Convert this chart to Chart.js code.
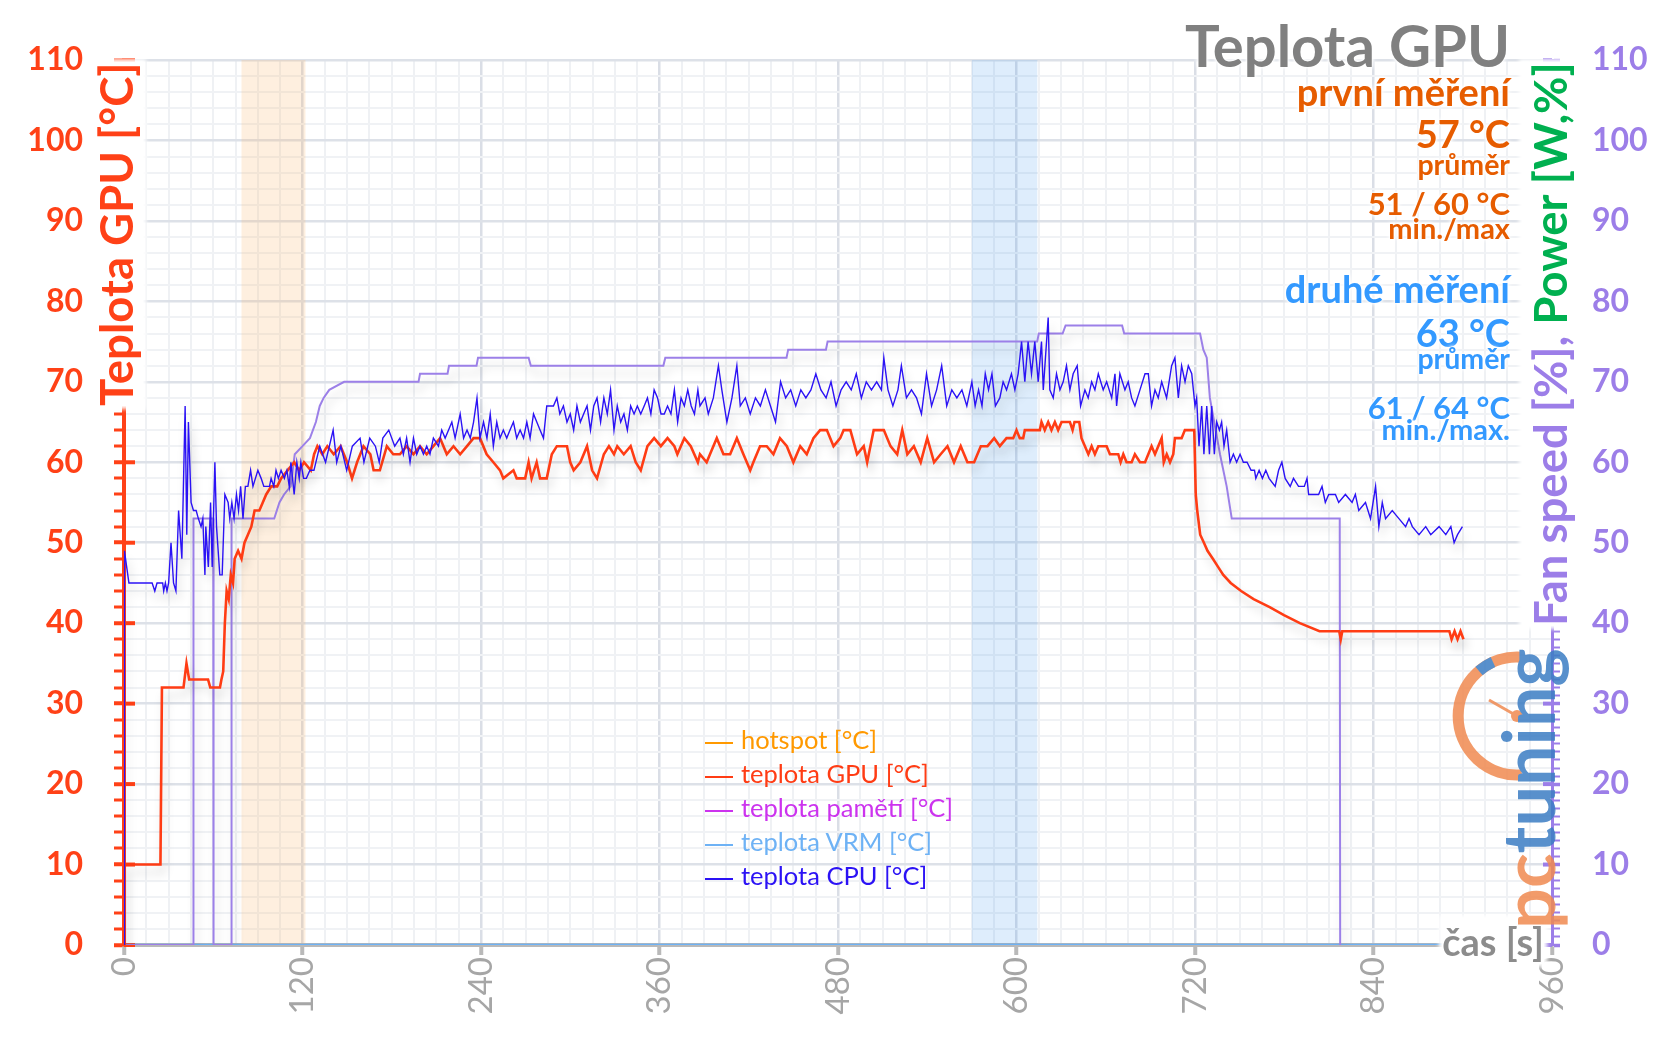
<!DOCTYPE html>
<html lang="cs">
<head>
<meta charset="utf-8">
<title>Teplota GPU</title>
<script src="https://cdn.jsdelivr.net/npm/chart.js@4.4.1/dist/chart.umd.min.js"></script>
<style>
  html, body { margin: 0; padding: 0; background: #fff; }
  #wrap { position: relative; width: 1656px; height: 1043px; overflow: hidden; font-family: Lato, 'Open Sans', sans-serif; }
  #cbox { position: absolute; left: 0; top: 0; width: 1656px; height: 1043px; }
  .halo { text-shadow: 0 0 2px #fff, 0 0 3px #fff, 0 0 4px #fff, 0 0 6px #fff; }
  .bg { background: #fff; box-shadow: 0 0 4px 3px #fff; }
  .note { position: absolute; right: 146px; text-align: right; font-weight: 700; line-height: 1; white-space: nowrap; }
  .vt { position: absolute; top: 62px; width: 46px; height: 700px; writing-mode: vertical-rl; transform: rotate(180deg);
        text-align: end; font-weight: 700; font-size: 45.5px; line-height: 46px; white-space: nowrap; }
  #legend { position: absolute; left: 705px; top: 722px; font-size: 25.5px; line-height: 34px; }
  #legend div { white-space: nowrap; }
  #legend .ln { display: inline-block; width: 28px; height: 2px; vertical-align: middle; margin-right: 8px; }
  #logo { position: absolute; left: 0; top: 0; pointer-events: none; }
</style>
</head>
<body>
<div id="wrap">
  <div id="cbox"><canvas id="chart"></canvas></div>
  <div id="notes"></div>
  <div class="vt" style="left:93px"><span class="bg" style="color:#ff4117">Teplota GPU [°C]</span></div>
  <div class="vt" style="left:1527px"><span class="bg"><span style="color:#9c7ee8">Fan speed [%],</span><span style="color:#00b050"> Power [W,%]</span></span></div>
  <div id="legend"></div>
  <div class="note" style="right:112px;top:922px;font-size:38px;color:#8c8c8c"><span class="bg">čas [s]</span></div>
  <svg id="logo" width="1656" height="1043" viewBox="0 0 1656 1043">
    <g opacity="0.85">
      <path d="M 1522 657.2 A 59 59 0 1 0 1522 774.8" fill="none" stroke="#f08a50" stroke-width="11"/>
      <path d="M 1479 671 A 59 59 0 0 1 1493 662" fill="none" stroke="#3b7dc4" stroke-width="11"/>
      <line x1="1517" y1="716" x2="1489" y2="700" stroke="#f08a50" stroke-width="3"/>
      <circle cx="1517" cy="716" r="6" fill="#f08a50"/>
      <text transform="translate(1555 929) rotate(-90)" font-family="Lato" font-weight="700" font-size="72"><tspan fill="#f08a50">pc</tspan><tspan fill="#3b7dc4">tuning</tspan></text>
    </g>
  </svg>
</div>
<script>
// časová osa a popisky
const xTickLabels = [0, 120, 240, 360, 480, 600, 720, 840, 960];
const yTickLabels = [0, 10, 20, 30, 40, 50, 60, 70, 80, 90, 100, 110];
const seriesLabels = ['hotspot [°C]', 'teplota GPU [°C]', 'teplota pamětí [°C]', 'teplota VRM [°C]', 'teplota CPU [°C]'];

// zvýrazněné úseky měření [od, do] v sekundách
const loadBand = [79, 122];
const idleBand = [570, 614];

// souhrn
const firstRun = ['první měření', '57 °C', 'průměr', '51 / 60 °C', 'min./max'];
const secondRun = ['druhé měření', '63 °C', 'průměr', '61 / 64 °C', 'min./max.'];

// [čas s, hodnota]
const hotspotTemp = [[0, 0], [901, 0]];
const memTemp = [[0, 0], [901, 0]];
const vrmTemp = [[0, 0], [901, 0]];

const gpuTemp = [[0,0],[0.5,10],[24.5,10],[25.5,32],[40,32],[42,35],[43.8,33],[56.5,33],[58,32],[64.5,32],[65.5,33],[66.7,34],[67.8,40],[69,44],[70.4,43],[71.8,46],[73.3,45],[74.4,48],[76.7,49],[79,48],[81,50],[83.3,51],[85.6,52],[87.8,54],[91,54],[93.3,55],[95.6,56],[99,57],[103,57],[105.6,58],[110,59],[114.4,60],[117.8,59],[121,60],[125.6,59],[127.8,61],[130,62],[133.3,61],[136.7,62],[141,61],[145.6,62],[150,60],[153.3,58],[156.7,60],[161,62],[165.6,61],[167.8,59],[172,59],[176.7,62],[181,61],[185.5,61],[190,62],[194.6,61],[199,62],[203.5,61],[208,62],[212.5,63],[217,61],[221.5,62],[226,61],[230.6,62],[235,63],[239.3,63],[243.8,61],[248.3,60],[252.8,59],[255,58],[261.8,59],[264,58],[269.7,58],[272,60],[274,58],[277.4,60],[279.7,58],[284.2,58],[287.6,61],[291,62],[297.8,62],[300,60],[302.3,59],[306.8,60],[311.3,62],[314.7,59],[318,58],[322.6,61],[326,62],[329.4,61],[331.6,62],[336,61],[340.6,62],[344,60],[347.4,59],[351.9,62],[356.4,63],[360.9,62],[365.4,63],[370,62],[372,61],[376.7,63],[381,62],[385.8,60],[387.2,61],[391.7,60],[396.2,62],[398.5,63],[403,61],[407.5,61],[412,63],[416.4,61],[421,59],[423.1,60],[427.6,62],[432.1,62],[436.6,61],[441,63],[445.6,62],[450,60],[454.6,62],[459,61],[463.5,63],[468,64],[472.5,64],[477,62],[481.5,63],[483.8,64],[488.3,64],[492.8,61],[497.3,62],[499.6,60],[504,64],[510.8,64],[515.3,62],[519.8,61],[523.2,64],[526.6,61],[531,62],[535.6,60],[540,63],[544.6,60],[549,61],[553.6,62],[558,60],[562.5,62],[567,60],[571.5,60],[576,62],[580.5,62],[585,63],[588.8,62],[593.3,63],[597.8,63],[600,64],[602.2,63],[604.5,63],[605.6,64],[615.7,64],[616.8,65],[619,64],[621.3,65],[623.5,64],[625.8,65],[628,64],[630.3,65],[635.9,65],[637.7,64],[639,65],[642.2,65],[643.7,63],[646,62],[648.3,61],[650.5,62],[652.7,61],[655,62],[660.6,62],[662.8,61],[668.4,61],[670,60],[671.8,61],[674,60],[677.4,60],[679.6,61],[683,60],[686.4,60],[688.6,61],[690.8,62],[693.1,61],[695.3,62],[697.6,63],[699,60],[701,61],[703.2,60],[705.4,61],[706.5,63],[711,63],[713.2,64],[717,64],[719.5,64],[720.5,56],[721.5,54],[723.5,51],[726,50],[728.4,49],[732,48],[735.5,47],[739,46],[744,45],[751,44],[759.4,43],[770.2,42],[779.8,41],[790.5,40],[803.7,39],[817,39],[818,38],[819,39],[891,39],[892.5,38],[894.5,39],[896.5,38],[898.5,39],[900.5,38]];

const cpuTemp = [[0,0],[0.3,49],[3.3,45],[18.9,45],[20.7,44],[22.2,45],[26,45],[26.7,44],[27.8,45],[28.9,44],[30,45],[31.6,50],[33.3,45],[34.9,44],[36.7,54],[38.9,48],[41.1,67],[42.2,51],[43.3,65],[45.1,55],[46.7,54],[48.5,54],[50,53],[51.8,52],[53,53],[54.4,46],[55,52],[56.7,47],[58.2,55],[59.3,47],[61.1,60],[62.2,52],[64.4,46],[66,46],[67.8,56],[70,55],[71.1,53],[72.5,55],[74,53],[75.6,56],[77,54],[78.4,57],[80,53],[81.6,57],[83.3,57],[85.1,59],[86.7,57],[90,59],[92.2,58],[94,57],[97.8,57],[98.9,58],[100.7,57],[102.2,59],[103.8,58],[105.6,59],[107.8,58],[109.5,59],[111.1,57],[112.2,60],[114.4,56],[116.2,60],[117.8,58],[118.9,60],[120.7,58],[122.6,58],[125,59],[127.7,59],[131.6,62],[135.5,60],[140.6,64],[143,60],[145.8,62],[149.7,59],[153.5,62],[158.7,63],[161.3,60],[165.2,63],[169,62],[171.6,60],[174,63],[178,64],[182,62],[185.5,63],[187.8,61],[190,63],[192.3,60],[194.6,63],[196.8,61],[199,62],[201.3,61],[203.5,62],[205.7,61],[208,63],[211.4,62],[213.6,64],[215.9,63],[218.2,64],[220.4,65],[222.6,63],[226,66],[228.3,63],[230.6,64],[232.8,63],[235,65],[237.3,68],[239.3,63],[241.7,65],[244,63],[246.2,66],[248.3,62],[250.6,65],[252.8,63],[255,64],[257.3,63],[259.5,64],[261.8,65],[264,63],[266.3,64],[268.6,63],[270.8,65],[273,63],[275.3,66],[277.5,65],[279.7,64],[282,63],[284.2,67],[286.5,67],[288.7,67],[291,68],[293,66],[295.4,67],[297.8,65],[300,66],[302.3,64],[304.5,67],[306.8,65],[309,66],[311.3,67],[313.6,64],[315.8,67],[318,68],[320.4,65],[322.6,68],[324.9,66],[327.1,69],[329.4,64],[331.6,67],[333.9,65],[336.1,66],[338.4,64],[340.6,67],[342.9,66],[345.1,67],[347.4,66],[349.7,67],[351.9,68],[354.2,66],[356.4,69],[358.7,68],[361,66],[363.2,66],[365.4,67],[367.7,66],[370,69],[372.2,65],[374.5,68],[376.7,67],[379,69],[381.3,67],[383.5,66],[385.8,69],[387.2,67],[390.6,68],[392.8,66],[396.2,68],[399.6,72],[401.9,69],[405.3,65],[408.7,68],[412,72],[414.3,67],[417.7,68],[421,66],[424.5,68],[427.8,67],[431.2,69],[434.6,67],[438,65],[441.4,70],[444.8,68],[448.2,69],[451.6,67],[455,69],[458.4,68],[461.8,69],[465.1,71],[468.5,69],[472,68],[475.3,70],[478.7,67],[482.1,69],[485.5,70],[488.9,69],[492.3,71],[495.7,68],[499,70],[502.5,69],[506,70],[509.2,69],[510.8,73],[513.6,69],[516.9,67],[520.3,69],[522.6,72],[526,68],[529.4,69],[532.8,68],[536.1,66],[539.5,71],[542.9,67],[546.3,69],[549.7,72],[553.1,67],[556.5,69],[559.9,68],[563.3,69],[566.6,67],[570,70],[572.2,67],[574.5,69],[576.8,67],[579,71],[581.2,69],[583.5,71],[585.8,67],[588.8,68],[591,70],[593.3,69],[596.6,71],[598.9,69],[601.1,71],[603.4,75],[605.6,70],[607.8,75],[610.1,71],[612.3,75],[614.6,70],[616.8,75],[618,69],[621.3,78],[622.4,69],[624.7,68],[626.9,71],[629.2,69],[631.4,70],[633.6,72],[635.9,69],[638.1,71],[640.8,72],[643.1,67],[646,69],[648.2,68],[650.5,70],[652.7,69],[655,71],[658.3,69],[660.6,70],[664,68],[666.2,71],[667.3,67],[669.5,71],[672.9,69],[675.1,70],[677.4,68],[679.6,67],[683,69],[686.4,71],[688.6,71],[690.8,67],[693.1,69],[695.3,68],[697.6,70],[700.9,68],[704.3,72],[706.5,73],[708.8,68],[711,72],[713.3,70],[715.5,72],[717.8,71],[720,67],[721.1,68],[722.7,62],[724.5,67],[726,61],[727.9,67],[729.7,61],[731.2,67],[733,61],[734.6,65],[736.4,64],[737.9,65],[739.5,62],[741.3,64],[743.6,60],[745.8,61],[748,60],[750.3,61],[752.5,60],[755,60],[757.7,59],[760,59],[760.9,58],[763.1,59],[765.3,58],[767.6,59],[769.8,58],[773.9,57],[776.2,59],[778.4,60],[780.6,58],[784,57],[786.2,58],[789.6,57],[793.5,57],[795.3,58],[796.4,56],[803.1,56],[805.4,57],[807.6,55],[809.9,56],[814.4,56],[816.6,55],[821.1,56],[825.6,55],[827.8,56],[830.1,54],[834.6,55],[838,53],[841.4,57],[843.6,52],[845.9,55],[848.1,53],[852.6,54],[857.1,53],[861.6,52],[863.9,53],[866.1,52],[870.6,51],[875.1,52],[878.5,51],[884.1,52],[888.6,51],[892,52],[894.2,50],[896.5,51],[899.8,52]];

const fanSpeed = [[0,0],[46.5,0],[46.7,53],[60,53],[60.2,0],[72,0],[72.3,53],[101,53],[104.5,55],[107.6,56],[112,57],[114.8,61],[120,62],[125,63],[129,65],[131.6,67],[134.2,68],[138,69],[148,70],[198,70],[199,71],[217.5,71],[218.5,72],[237,72],[238,73],[272,73],[273.5,72],[362.6,72],[363.9,73],[445.4,73],[446.5,74],[471.9,74],[473,75],[613.9,75],[615,76],[631,76],[633,77],[671,77],[672.4,76],[723.4,76],[725.6,74],[727.9,73],[730,68],[736.8,61],[741.3,57],[744.7,53],[817.3,53],[817.6,0]];

const leftColor = '#ff4117';
const rightColor = '#9c7ee8';
const pts = arr => arr.map(([x, y]) => ({ x, y }));

const datasets = [
  { label: seriesLabels[0], data: pts(hotspotTemp), borderColor: '#ff9900', borderWidth: 2, order: 5 },
  { label: seriesLabels[1], data: pts(gpuTemp), borderColor: '#ff3c14', borderWidth: 2.6, order: 1 },
  { label: seriesLabels[2], data: pts(memTemp), borderColor: '#cc33ee', borderWidth: 2, order: 4 },
  { label: seriesLabels[3], data: pts(vrmTemp), borderColor: '#6eb2f5', borderWidth: 2.5, order: 3 },
  { label: seriesLabels[4], data: pts(cpuTemp), borderColor: '#2b12f5', borderWidth: 1.4, order: 0 },
  { label: 'Fan speed [%]', data: pts(fanSpeed), borderColor: '#9c80e8', borderWidth: 2, order: 2, yAxisID: 'y2' }
];
datasets.forEach(d => { d.pointRadius = 0; d.tension = 0; d.fill = false; });

// pásy, vnitřní části hlavních značek a stín čar
const decor = {
  id: 'decor',
  beforeDatasetsDraw(chart) {
    const { ctx, chartArea: a, scales: { x, y, y2 } } = chart;
    ctx.save();
    [[loadBand, 'rgba(250,180,110,0.22)'], [idleBand, 'rgba(60,150,240,0.17)']].forEach(([b, c]) => {
      const x1 = x.getPixelForValue(b[0]);
      const x2 = x.getPixelForValue(b[1]);
      ctx.fillStyle = c;
      ctx.fillRect(x1, a.top, x2 - x1, a.bottom - a.top);
    });
    ctx.lineWidth = 4;
    yTickLabels.forEach(v => {
      const p1 = y.getPixelForValue(v);
      ctx.strokeStyle = leftColor;
      ctx.beginPath(); ctx.moveTo(a.left, p1); ctx.lineTo(a.left + 11, p1); ctx.stroke();
      const p2 = y2.getPixelForValue(v);
      ctx.strokeStyle = rightColor;
      ctx.beginPath(); ctx.moveTo(a.right - 9, p2); ctx.lineTo(a.right, p2); ctx.stroke();
    });
    ctx.restore();
  },
  beforeDatasetDraw(chart) {
    const c = chart.ctx;
    c.save();
    c.shadowColor = 'rgba(0,0,0,0.17)';
    c.shadowBlur = 10;
    c.shadowOffsetX = 3;
    c.shadowOffsetY = 8;
  },
  afterDatasetDraw(chart) {
    chart.ctx.restore();
  }
};

const isMajor = (c, step) => c.tick && c.tick.value % step === 0;

new Chart(document.getElementById('chart'), {
  type: 'line',
  data: { datasets },
  options: {
    responsive: true,
    maintainAspectRatio: false,
    devicePixelRatio: 1,
    animation: false,
    parsing: false,
    layout: { padding: { top: 60, left: 0, right: 0, bottom: 0 } },
    plugins: { legend: { display: false }, tooltip: { enabled: false } },
    scales: {
      x: {
        type: 'linear', min: 0, max: 960,
        ticks: {
          stepSize: 15, autoSkip: false, minRotation: 90, maxRotation: 90, padding: 2,
          color: '#a6a6a6', font: { family: 'Lato', size: 33 },
          callback: v => xTickLabels.includes(v) ? String(v) : ''
        },
        grid: {
          color: c => isMajor(c, 120) ? '#dadee6' : '#eff1f4',
          lineWidth: c => isMajor(c, 120) ? 2.5 : 2,
          tickLength: 10,
          tickWidth: 4,
          tickColor: c => isMajor(c, 120) ? '#b9b9b9' : 'rgba(0,0,0,0)'
        },
        border: { color: '#b9b9b9', width: 4 },
        afterFit: s => { s.height = 98; }
      },
      y: {
        position: 'left', min: 0, max: 110,
        ticks: {
          stepSize: 2, autoSkip: false, padding: 31, color: leftColor,
          font: { family: 'Lato', size: 32, weight: 'bold' },
          callback: v => yTickLabels.includes(v) ? String(v) : ''
        },
        grid: {
          color: c => isMajor(c, 10) ? '#dde1e8' : '#f0f2f5',
          lineWidth: c => isMajor(c, 10) ? 2.5 : 2,
          tickLength: 10,
          tickColor: leftColor,
          tickWidth: c => isMajor(c, 10) ? 4 : 3
        },
        border: { color: leftColor, width: 4 },
        afterFit: s => { s.width = 124; }
      },
      y2: {
        position: 'right', min: 0, max: 110,
        ticks: {
          stepSize: 1, autoSkip: false, padding: 32, color: rightColor,
          font: { family: 'Lato', size: 32, weight: 'bold' },
          callback: v => yTickLabels.includes(v) ? String(v) : ''
        },
        grid: {
          drawOnChartArea: false,
          tickLength: 8,
          tickColor: rightColor,
          tickWidth: c => isMajor(c, 10) ? 3.5 : 2
        },
        border: { color: rightColor, width: 3 },
        afterFit: s => { s.width = 104; }
      }
    }
  },
  plugins: [decor]
});

// titulek a souhrnné hodnoty
const notes = document.getElementById('notes');
const addNote = (text, color, size, top) => {
  const d = document.createElement('div');
  d.className = 'note halo';
  d.textContent = text;
  d.style.color = color;
  d.style.fontSize = size + 'px';
  d.style.top = top + 'px';
  notes.appendChild(d);
};
addNote('Teplota GPU', '#808080', 58, 15.6);
const sizes = [38, 38, 28.5, 31, 29];
[71.8, 114.3, 149.7, 188, 213.3].forEach((t, i) => addNote(firstRun[i], '#e65c00', sizes[i], t));
[269.3, 313.3, 343.7, 391.8, 414.1].forEach((t, i) => addNote(secondRun[i], '#3399ff', sizes[i], t));

// legenda
const legendBox = document.getElementById('legend');
datasets.filter(d => seriesLabels.includes(d.label)).forEach(d => {
  const row = document.createElement('div');
  row.style.color = d.borderColor;
  row.innerHTML = '<span class="ln" style="background:' + d.borderColor + '"></span>' + d.label;
  legendBox.appendChild(row);
});
</script>
</body>
</html>
